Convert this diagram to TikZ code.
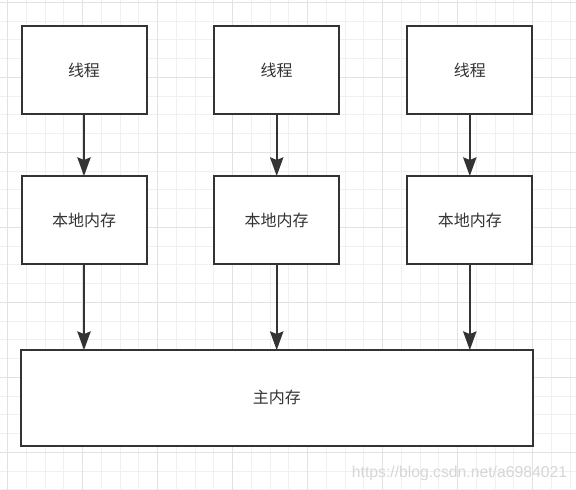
\documentclass[tikz,border=0pt]{standalone}
\usepackage{fontspec}
\newfontfamily\cjk{Noto Sans CJK SC}
\newfontfamily\wm{Liberation Sans}
\usetikzlibrary{arrows.meta}
\definecolor{boxc}{HTML}{333333}
\definecolor{txtc}{HTML}{333333}
\definecolor{minorc}{HTML}{F0F0F0}
\definecolor{majorc}{HTML}{E2E2E2}
\definecolor{wmc}{HTML}{D6D6D6}
\begin{document}
\begin{tikzpicture}[x=0.75pt,y=-0.75pt,
  box/.style={draw=boxc, line width=1.5pt, fill=white, minimum width=93.75pt, minimum height=66pt, inner sep=0pt, outer sep=0pt, font=\cjk\fontsize{12}{14}\selectfont, text=txtc},
  mainbox/.style={box, minimum width=383.6pt, minimum height=71.6pt},
  arr/.style={draw=boxc, line width=1.5pt, -{Stealth[length=14pt,width=10pt,inset=2pt]}},
  minor/.style={draw=minorc, line width=0.75pt},
  major/.style={draw=majorc, line width=0.75pt}]
\fill[white] (0,0) rectangle (576,490);
\useasboundingbox (0,0) rectangle (576,490);
\foreach \i in {0,...,30} \draw[minor] ({7.5+18.75*\i},0) -- ({7.5+18.75*\i},490);
\foreach \i in {0,...,26} \draw[minor] (0,{2.3+18.75*\i}) -- (576,{2.3+18.75*\i});
\foreach \i in {0,...,7} \draw[major] ({7.5+75*\i},0) -- ({7.5+75*\i},490);
\foreach \i in {0,...,6} \draw[major] (0,{2.3+75*\i}) -- (576,{2.3+75*\i});
\node[box] (t1) at (84,70) {线程};
\node[box] (t2) at (276.7,70) {线程};
\node[box] (t3) at (469.8,70) {线程};
\node[box] (l1) at (84,220) {本地内存};
\node[box] (l2) at (276.7,220) {本地内存};
\node[box] (l3) at (469.8,220) {本地内存};
\node[mainbox] (m) at (276.8,397.8) {主内存};
\foreach \i in {1,2,3} {
  \draw[arr] (t\i.south) -- (l\i.north);
  \draw[arr] (l\i.south) -- (m.north -| l\i.south);
}
\node[font=\wm\fontsize{11.8}{12}\selectfont, text=wmc, anchor=base] (wmk) at (459.5,477) {https://blog.csdn.net/a6984021};
\end{tikzpicture}
\end{document}
